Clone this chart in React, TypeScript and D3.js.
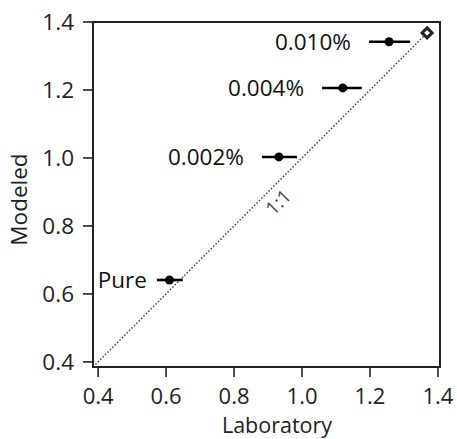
import React from 'react';
import * as d3 from 'd3';

// values
const labels = ['Pure', '0.002%', '0.004%', '0.010%'];
const labX = [0.61, 0.932, 1.12, 1.256];
const modY = [0.641, 1.003, 1.206, 1.342];
const errLo = [0.573, 0.882, 1.059, 1.197];
const errHi = [0.649, 0.985, 1.176, 1.318];
const refPoint = [1.368, 1.368];
const ticks = [0.4, 0.6, 0.8, 1.0, 1.2, 1.4];

const W = 457;
const H = 439;
const FONT = '"Open Sans", "Noto Sans", sans-serif';
const FS = 22.5;

const App = () => {
    const x = d3.scaleLinear().domain([0.385, 1.406]).range([93, 440]);
    const y = d3.scaleLinear().domain([0.385, 1.4]).range([367, 22]);
    const fmt = d3.format('.1f');
    const [x0, x1] = x.range();
    const [y0, y1] = y.range();

    const diag = d3.line<number>()
        .x(d => x(d))
        .y(d => y(d));

    const dx = x(refPoint[0]);
    const dy = y(refPoint[1]);
    const ds = 5;

    return (
        <div style={{ position: 'absolute', left: 0, top: 0 }}>
            <svg width={W} height={H} style={{ display: 'block', fontFamily: FONT }}>
                {/* 1:1 line */}
                <path d={diag([0.385, refPoint[0]]) || ''} fill="none" stroke="#555"
                    strokeWidth={1.6} strokeDasharray="1.6,1.8" />
                <text transform={`translate(283,207) rotate(-45)`} textAnchor="middle"
                    fontSize={19} fill="#4a4a4a">1:1</text>

                {/* frame */}
                <rect x={x0} y={y1} width={x1 - x0} height={y0 - y1}
                    fill="none" stroke="#222" strokeWidth={2} />

                {/* x axis */}
                {ticks.map(t => (
                    <g key={'x' + t}>
                        <line x1={x(t)} x2={x(t)} y1={y0} y2={y0 + 10} stroke="#222" strokeWidth={1.6} />
                        <text x={x(t)} y={403.5} textAnchor="middle" fontSize={22} fill="#222">{fmt(t)}</text>
                    </g>
                ))}
                {/* y axis */}
                {ticks.map(t => (
                    <g key={'y' + t}>
                        <line x1={x0 - 10} x2={x0} y1={y(t)} y2={y(t)} stroke="#222" strokeWidth={1.6} />
                        <text x={74} y={y(t)} dy="0.36em" textAnchor="end" fontSize={FS} fill="#222">{fmt(t)}</text>
                    </g>
                ))}

                <text x={277} y={432.5} textAnchor="middle" fontSize={21.5} fill="#222">Laboratory</text>
                <text transform={`translate(27,${(y0 + y1) / 2 + 5}) rotate(-90)`} textAnchor="middle"
                    fontSize={FS} fill="#222">Modeled</text>

                {/* error bars and points */}
                {labels.map((l, i) => (
                    <g key={l}>
                        <line x1={x(errLo[i])} x2={x(errHi[i])} y1={y(modY[i])} y2={y(modY[i])}
                            stroke="#000" strokeWidth={2.6} />
                        <circle cx={x(labX[i])} cy={y(modY[i])} r={4.5} fill="#000" />
                        <text x={x(errLo[i]) - (i === 0 ? 10 : 18)} y={y(modY[i])} dy="0.36em" textAnchor="end"
                            fontSize={FS} fill="#111">{l}</text>
                    </g>
                ))}

                {/* reference diamond */}
                <path d={`M${dx},${dy - ds}L${dx + ds},${dy}L${dx},${dy + ds}L${dx - ds},${dy}Z`}
                    fill="#fff" stroke="#222" strokeWidth={3} />
            </svg>
        </div>
    );
};

export default App;
